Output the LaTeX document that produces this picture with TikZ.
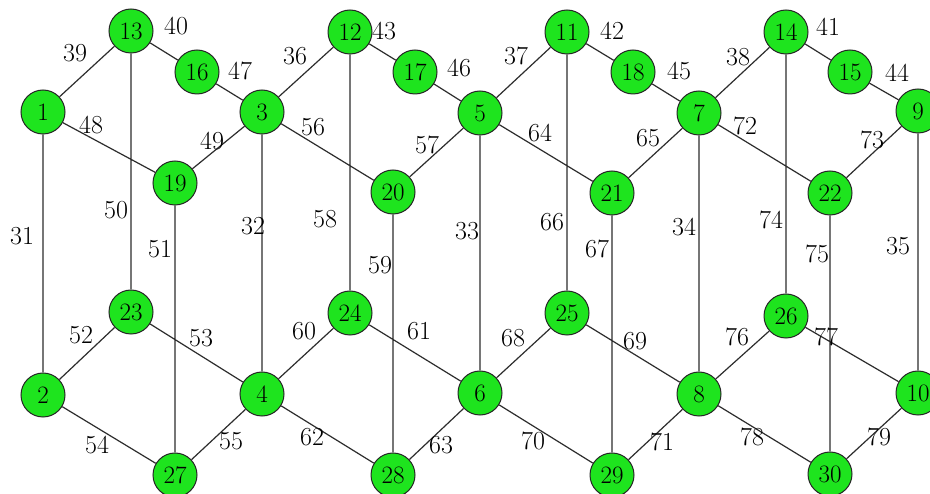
\documentclass[tikz,border=0pt]{standalone}
\definecolor{nodegreen}{RGB}{30,228,30}
\definecolor{edgegray}{RGB}{45,45,45}
\tikzset{
  vtx/.style={circle,draw=black!85,line width=1pt,fill=nodegreen,minimum size=44pt,inner sep=0pt,font=\fontsize{25}{29}\selectfont},
  elab/.style={inner sep=0pt,font=\fontsize{26}{30}\selectfont},
  edge/.style={draw=edgegray,line width=1.2pt}
}
\begin{document}
\begin{tikzpicture}[x=1pt,y=-1pt]
\useasboundingbox (0,0) rectangle (930,494);
\clip (0,0) rectangle (930,494);
\fill[white] (0,0) rectangle (930,494);
% nodes
\node[vtx] (n13) at (131,31) {13};
\node[vtx] (n16) at (197,72) {16};
\node[vtx] (n1) at (43,112) {1};
\node[vtx] (n3) at (262,112) {3};
\node[vtx] (n19) at (175,183) {19};
\node[vtx] (n12) at (350,32) {12};
\node[vtx] (n17) at (415,72) {17};
\node[vtx] (n5) at (480,113) {5};
\node[vtx] (n20) at (393,192) {20};
\node[vtx] (n11) at (567,32) {11};
\node[vtx] (n21) at (612,193) {21};
\node[vtx] (n18) at (633,72) {18};
\node[vtx] (n7) at (699,113) {7};
\node[vtx] (n14) at (786,32) {14};
\node[vtx] (n15) at (850,72) {15};
\node[vtx] (n9) at (918,111) {9};
\node[vtx] (n22) at (830,193) {22};
\node[vtx] (n23) at (131,312) {23};
\node[vtx] (n2) at (43,395) {2};
\node[vtx] (n4) at (262,394) {4};
\node[vtx] (n27) at (175,475) {27};
\node[vtx] (n24) at (350,313) {24};
\node[vtx] (n6) at (480,393) {6};
\node[vtx] (n28) at (393,475) {28};
\node[vtx] (n25) at (567,313) {25};
\node[vtx] (n29) at (612,475) {29};
\node[vtx] (n26) at (786,316) {26};
\node[vtx] (n8) at (699,394) {8};
\node[vtx] (n10) at (918,393) {10};
\node[vtx] (n30) at (830,474) {30};
% edges
\draw[edge] (n1)--(n13) (n13)--(n16) (n16)--(n3) (n1)--(n19) (n19)--(n3)
  (n3)--(n12) (n12)--(n17) (n17)--(n5) (n3)--(n20) (n20)--(n5)
  (n5)--(n11) (n11)--(n18) (n18)--(n7) (n5)--(n21) (n21)--(n7)
  (n7)--(n14) (n14)--(n15) (n15)--(n9) (n7)--(n22) (n22)--(n9)
  (n1)--(n2) (n13)--(n23) (n19)--(n27) (n3)--(n4) (n12)--(n24) (n20)--(n28)
  (n5)--(n6) (n11)--(n25) (n21)--(n29) (n7)--(n8) (n14)--(n26) (n22)--(n30) (n9)--(n10)
  (n2)--(n23) (n23)--(n4) (n2)--(n27) (n27)--(n4)
  (n4)--(n24) (n24)--(n6) (n4)--(n28) (n28)--(n6)
  (n6)--(n25) (n25)--(n8) (n6)--(n29) (n29)--(n8)
  (n8)--(n26) (n26)--(n10) (n8)--(n30) (n30)--(n10);
% labels
\node[elab] (l39) at (75,53) {39};
\node[elab] (l40) at (176,26) {40};
\node[elab] (l47) at (240,71) {47};
\node[elab] (l48) at (91,125) {48};
\node[elab] (l49) at (212,141) {49};
\node[elab] (l36) at (295,56) {36};
\node[elab] (l56) at (313,127) {56};
\node[elab] (l43) at (384,31) {43};
\node[elab] (l46) at (459,68) {46};
\node[elab] (l57) at (427,145) {57};
\node[elab] (l37) at (516,56) {37};
\node[elab] (l42) at (612,31) {42};
\node[elab] (l64) at (540,133) {64};
\node[elab] (l45) at (679,71) {45};
\node[elab] (l65) at (648,138) {65};
\node[elab] (l72) at (745,126) {72};
\node[elab] (l38) at (738,57) {38};
\node[elab] (l41) at (828,27) {41};
\node[elab] (l44) at (897,73) {44};
\node[elab] (l73) at (872,140) {73};
\node[elab] (l31) at (22,236) {31};
\node[elab] (l50) at (116,210) {50};
\node[elab] (l51) at (160,249) {51};
\node[elab] (l32) at (253,226) {32};
\node[elab] (l58) at (325,219) {58};
\node[elab] (l59) at (380,265) {59};
\node[elab] (l33) at (467,231) {33};
\node[elab] (l66) at (552,222) {66};
\node[elab] (l67) at (597,249) {67};
\node[elab] (l34) at (684,227) {34};
\node[elab] (l74) at (771,220) {74};
\node[elab] (l75) at (817,254) {75};
\node[elab] (l35) at (898,246) {35};
\node[elab] (l52) at (81,335) {52};
\node[elab] (l53) at (201,338) {53};
\node[elab] (l60) at (304,331) {60};
\node[elab] (l61) at (419,331) {61};
\node[elab] (l68) at (513,338) {68};
\node[elab] (l69) at (635,341) {69};
\node[elab] (l76) at (737,337) {76};
\node[elab] (l77) at (826,337) {77};
\node[elab] (l54) at (97,445) {54};
\node[elab] (l55) at (231,441) {55};
\node[elab] (l62) at (312,437) {62};
\node[elab] (l63) at (441,445) {63};
\node[elab] (l70) at (533,441) {70};
\node[elab] (l71) at (662,442) {71};
\node[elab] (l78) at (752,437) {78};
\node[elab] (l79) at (879,437) {79};
\end{tikzpicture}
\end{document}
